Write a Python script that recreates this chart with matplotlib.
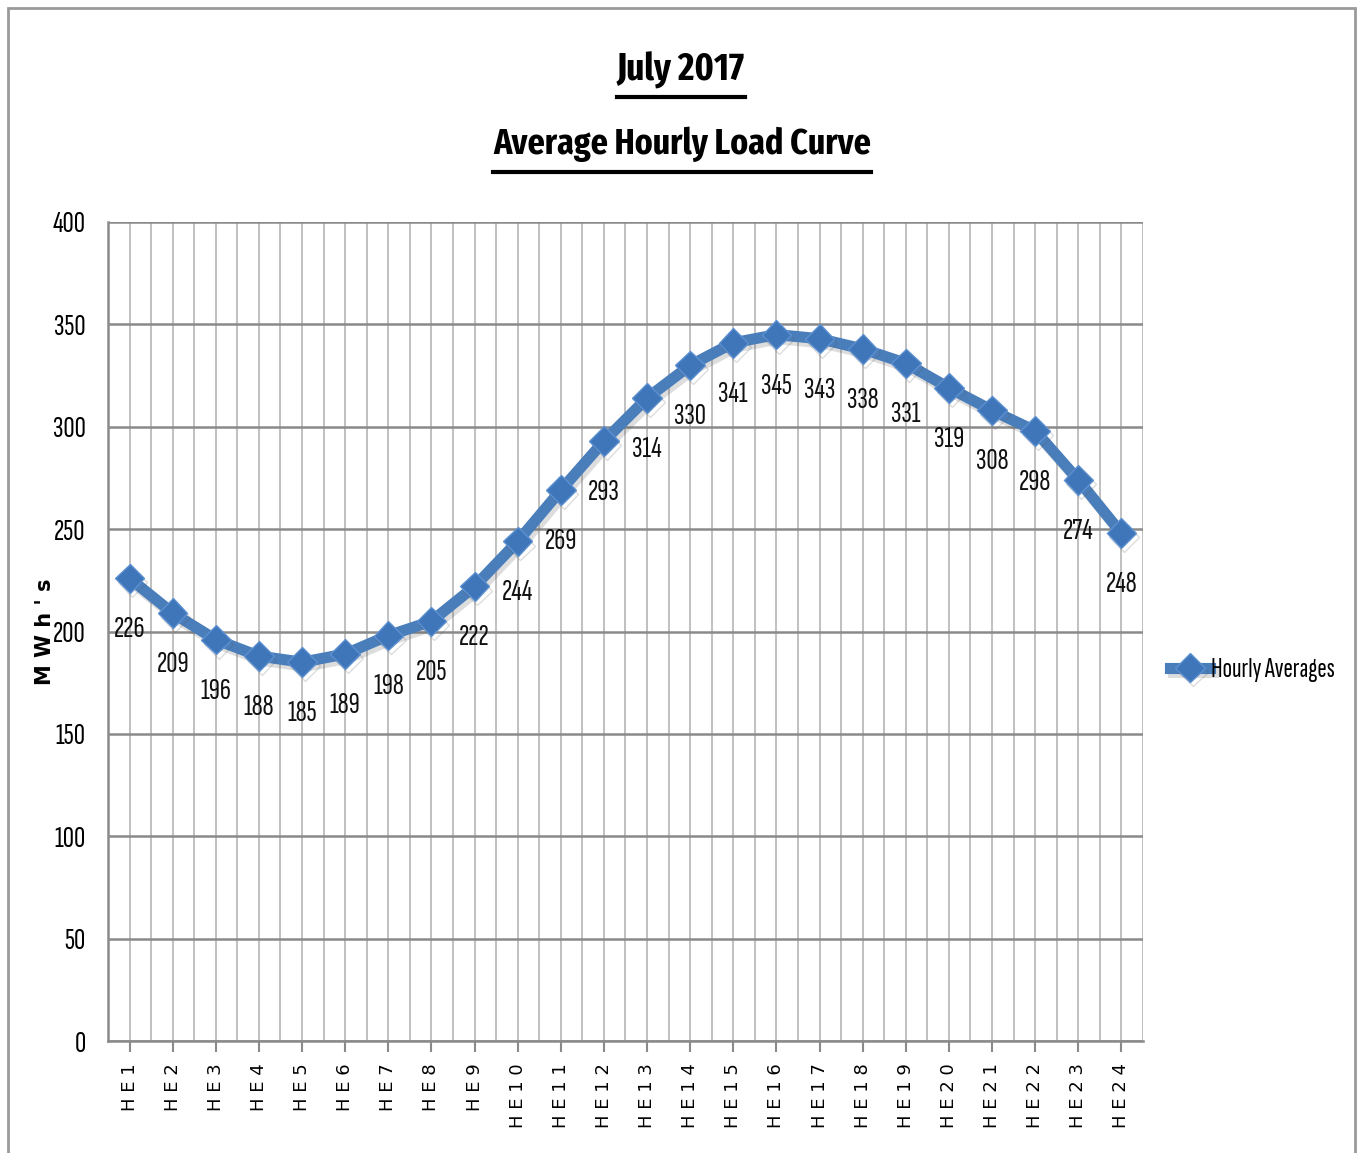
import matplotlib.pyplot as plt
import matplotlib.patheffects as pe
from matplotlib.patches import Rectangle
from matplotlib.lines import Line2D

# data
hours = ["HE1", "HE2", "HE3", "HE4", "HE5", "HE6", "HE7", "HE8", "HE9", "HE10",
         "HE11", "HE12", "HE13", "HE14", "HE15", "HE16", "HE17", "HE18", "HE19",
         "HE20", "HE21", "HE22", "HE23", "HE24"]
loads = [226, 209, 196, 188, 185, 189, 198, 205, 222, 244, 269, 293, 314, 330,
         341, 345, 343, 338, 331, 319, 308, 298, 274, 248]
y_ticks = [0, 50, 100, 150, 200, 250, 300, 350, 400]

narrow = ["Sofia Sans Extra Condensed", "DejaVu Sans"]
narrow_bold = ["Fira Sans Extra Condensed", "DejaVu Sans"]
blue = "#4a7ebb"

W, H = 1358, 1153
fig = plt.figure(figsize=(W / 100, H / 100), dpi=100)
fig.patch.set_facecolor("white")
r = fig.canvas.get_renderer()


def fit(txt, target):
    # scale a text's font size so its drawn width is about target px
    for _ in range(3):
        w = txt.get_window_extent(r).width
        txt.set_fontsize(txt.get_fontsize() * target / w)
    return txt.get_fontsize()


# outer chart frame
fig.patches.append(Rectangle((8 / W, -0.01), (1355 - 8) / W, 1 - 8 / H + 0.01,
                             transform=fig.transFigure, fill=False,
                             edgecolor="#9a9a9a", lw=2))

ax = fig.add_axes([108 / W, (H - 1041) / H, (1143 - 108) / W, (1041 - 222) / H])
x = list(range(len(hours)))

# grid
ax.set_xlim(-0.5, len(hours) - 0.5)
ax.set_ylim(0, 400)
for i in range(len(hours)):
    ax.axvline(i, color="#c0c0c0", lw=1.4, zorder=0)
    ax.axvline(i + 0.5, color="#c0c0c0", lw=1.4, zorder=0)
for t in y_ticks:
    ax.axhline(t, color="#8a8a8a", lw=1.8, zorder=1)

for s in ["top", "right"]:
    ax.spines[s].set_visible(False)
for s in ["left", "bottom"]:
    ax.spines[s].set_color("#8a8a8a")
    ax.spines[s].set_linewidth(1.8)

line, = ax.plot(x, loads, color=blue, lw=8, marker="D", markersize=15,
                markerfacecolor="#3f76ba", markeredgecolor="#5b8fd0",
                markeredgewidth=1, solid_joinstyle="round", zorder=3,
                path_effects=[pe.SimpleLineShadow(offset=(2, -3), alpha=0.2,
                                                  shadow_color="#555555"),
                              pe.Normal()],
                clip_on=False)

# font sizes for numbers and legend, measured from reference widths
probe = fig.text(0, 0, "400", family=narrow, fontsize=20)
num_size = fit(probe, 33)
probe.set_text("Hourly Averages")
leg_size = fit(probe, 124)
probe.remove()

for xi, v in zip(x, loads):
    ax.annotate(str(v), (xi, v), xytext=(0, -37), textcoords="offset points",
                ha="center", va="center", fontsize=num_size, family=narrow,
                color="#111111", zorder=4)

ax.set_yticks(y_ticks)
ax.set_yticklabels([str(t) for t in y_ticks], family=narrow, fontsize=num_size)
ax.tick_params(axis="y", length=0, pad=16)
ax.set_xticks(x)
ax.set_xticklabels([" ".join(h) for h in hours], rotation=90, va="top",
                   family="DejaVu Sans", fontsize=13)
ax.tick_params(axis="x", length=8, width=1.5, color="#8a8a8a", pad=8)

fig.text(45 / W, 1 - 632 / H, "M W h ' s", rotation=90, ha="center",
         va="center", fontsize=15, fontweight="bold", family="DejaVu Sans")

# titles with underline
t1 = fig.text(681 / W, 1 - 70 / H, "July 2017", ha="center", va="center",
              fontsize=30, fontweight="bold", family=narrow_bold)
t2 = fig.text(682 / W, 1 - 144 / H, "Average Hourly Load Curve", ha="center",
              va="center", fontsize=30, fontweight="bold", family=narrow_bold)
fit(t1, 128)
fit(t2, 378)
for t, uy in [(t1, 97), (t2, 172)]:
    bb = t.get_window_extent(r)
    fig.lines.append(Line2D([bb.x0 / W, bb.x1 / W], [1 - uy / H, 1 - uy / H],
                            transform=fig.transFigure, color="black", lw=3))

# legend
fig.legend([line], ["Hourly Averages"], loc="center left",
           bbox_to_anchor=(1170 / W, 1 - 670 / H), frameon=False,
           prop={"family": narrow, "size": leg_size},
           handlelength=40 * 72 / 100 / leg_size,
           handletextpad=0.05, borderaxespad=0, borderpad=0)

fig.savefig("out.png", dpi=100)
